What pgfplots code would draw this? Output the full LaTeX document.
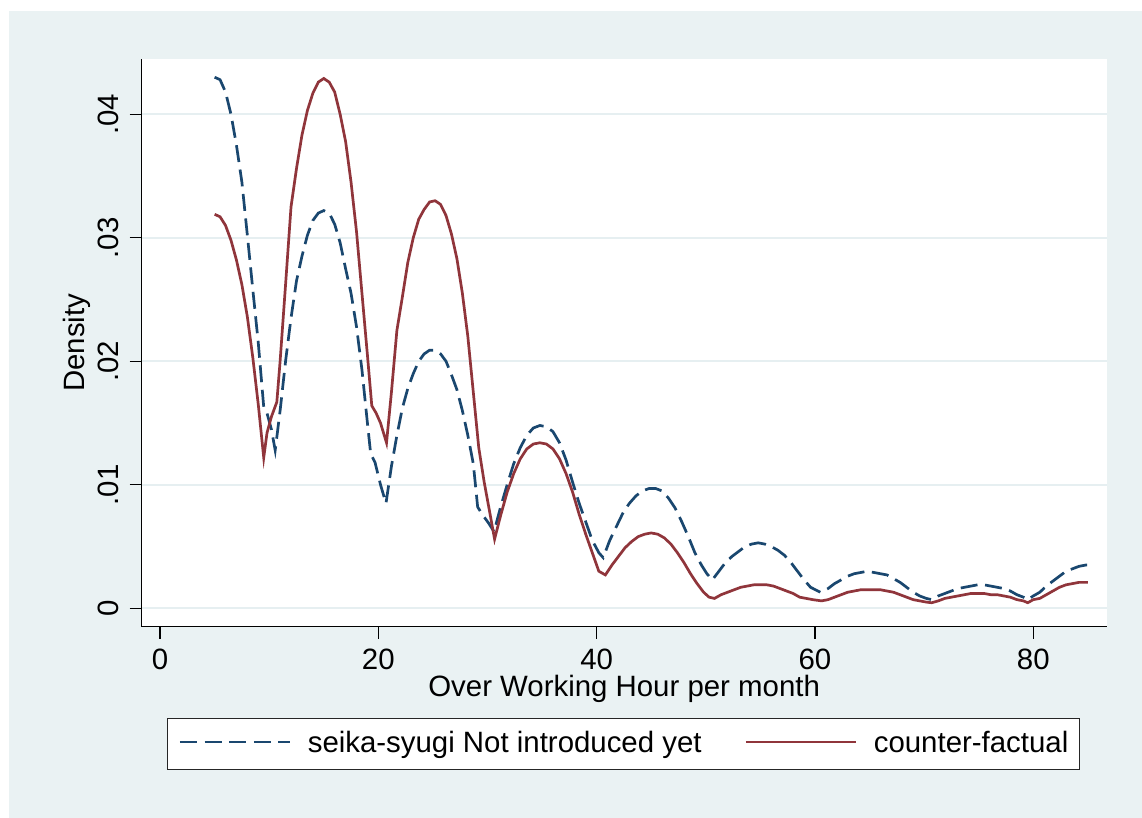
\documentclass[border=0pt]{standalone}
\usepackage{pgfplots}
\pgfplotsset{compat=1.18}
\usepackage{fontspec}
\setmainfont{Liberation Sans}
\definecolor{stnavy}{RGB}{26,71,111}
\definecolor{stmaroon}{RGB}{144,53,59}
\definecolor{stbg}{RGB}{234,242,243}
\definecolor{stgrid}{RGB}{230,239,241}

\pgfplotstableread{
x y
5 0.0430
5.5 0.0428
6 0.0418
6.5 0.0400
7 0.0375
7.5 0.0345
8 0.0302
8.5 0.0258
9 0.0215
9.5 0.0163
9.8 0.0158
10.2 0.0145
10.55 0.0128
11 0.0160
11.5 0.0200
12 0.0235
12.5 0.0265
13 0.0285
13.5 0.0302
14 0.0314
14.5 0.0320
15 0.0322
15.5 0.0320
16 0.0311
16.5 0.0296
17 0.0275
17.5 0.0255
18 0.0228
18.5 0.0193
19 0.0150
19.3 0.0125
19.7 0.0118
20.2 0.0100
20.7 0.0085
21.2 0.0115
21.7 0.0140
22.2 0.0162
22.7 0.0178
23.2 0.0190
23.7 0.0200
24.2 0.0206
24.7 0.0209
25.2 0.0209
25.7 0.0206
26.2 0.0200
26.7 0.0189
27.2 0.0177
27.7 0.0160
28.2 0.0140
28.7 0.0117
29.1 0.0082
29.6 0.0075
30.1 0.0069
30.6 0.0062
31.2 0.0082
31.8 0.0100
32.4 0.0117
33 0.0130
33.6 0.0140
34.2 0.0146
34.8 0.0148
35.4 0.0147
36 0.0143
36.6 0.0134
37.2 0.0120
37.8 0.0102
38.4 0.0085
39 0.0070
39.6 0.0055
40.2 0.0045
40.6 0.0041
41.2 0.0055
41.8 0.0066
42.4 0.0077
43 0.0085
43.6 0.0091
44.2 0.0095
44.8 0.0097
45.4 0.0097
46 0.0095
46.6 0.0089
47.2 0.0081
47.8 0.0070
48.4 0.0058
49 0.0045
49.6 0.0035
50.1 0.0028
50.6 0.0023
51.2 0.0030
51.8 0.0037
52.4 0.0042
53 0.0046
53.6 0.0050
54.2 0.0052
54.8 0.0053
55.4 0.0052
56 0.0050
56.6 0.0047
57.2 0.0043
57.8 0.0037
58.4 0.0030
59 0.0023
59.6 0.0017
60.5 0.0013
61.2 0.0016
61.8 0.0020
62.4 0.0023
63 0.0026
63.6 0.0028
64.2 0.0029
64.8 0.0030
65.4 0.0029
66 0.0028
66.6 0.0027
67.2 0.0024
67.8 0.0021
68.4 0.0017
69 0.0013
69.6 0.0010
70.2 0.0008
70.7 0.0007
71.3 0.0010
71.9 0.0012
72.5 0.0014
73.1 0.0016
73.7 0.0017
74.3 0.0018
74.9 0.0019
75.5 0.0019
76.1 0.0018
76.7 0.0017
77.3 0.0016
77.9 0.0014
78.5 0.0011
79.1 0.0009
79.5 0.0007
80 0.0010
80.6 0.0013
81.2 0.0018
81.8 0.0022
82.4 0.0026
83 0.0030
83.6 0.0032
84.2 0.0034
84.8 0.0035
85 0.0035
}\blueseries

\pgfplotstableread{
x y
5 0.0319
5.5 0.0317
6 0.0310
6.5 0.0298
7 0.0282
7.5 0.0262
8 0.0236
8.5 0.0203
9 0.0165
9.5 0.0122
9.8 0.0142
10.2 0.0155
10.7 0.0167
11 0.0200
11.5 0.0262
12 0.0325
12.5 0.0356
13 0.0383
13.5 0.0403
14 0.0417
14.5 0.0426
15 0.0429
15.5 0.0426
16 0.0418
16.5 0.0400
17 0.0378
17.5 0.0345
18 0.0305
18.5 0.0255
19 0.0205
19.4 0.0164
19.8 0.0158
20.2 0.0150
20.75 0.0134
21.2 0.0175
21.7 0.0225
22.2 0.0252
22.7 0.0280
23.2 0.0300
23.7 0.0315
24.2 0.0323
24.7 0.0329
25.2 0.0330
25.7 0.0327
26.2 0.0318
26.7 0.0303
27.2 0.0283
27.7 0.0255
28.2 0.0220
28.7 0.0175
29.2 0.0130
29.7 0.0102
30.2 0.0078
30.65 0.0056
31.2 0.0075
31.8 0.0094
32.4 0.0109
33 0.0121
33.6 0.0129
34.2 0.0133
34.8 0.0134
35.4 0.0133
36 0.0129
36.6 0.0121
37.2 0.0109
37.8 0.0094
38.4 0.0076
39 0.0060
39.6 0.0045
40.2 0.0030
40.8 0.0027
41.4 0.0035
42 0.0042
42.6 0.0049
43.2 0.0054
43.8 0.0058
44.4 0.0060
45 0.0061
45.6 0.0060
46.2 0.0057
46.8 0.0052
47.4 0.0045
48 0.0037
48.6 0.0028
49.2 0.0020
49.8 0.0013
50.3 0.0009
50.8 0.0008
51.4 0.0011
52 0.0013
52.6 0.0015
53.2 0.0017
53.8 0.0018
54.4 0.0019
55 0.0019
55.6 0.0019
56.2 0.0018
56.8 0.0016
57.4 0.0014
58 0.0012
58.6 0.0009
59.2 0.0008
59.8 0.0007
60.6 0.0006
61.2 0.0007
61.8 0.0009
62.4 0.0011
63 0.0013
63.6 0.0014
64.2 0.0015
64.8 0.0015
65.4 0.0015
66 0.0015
66.6 0.0014
67.2 0.0013
67.8 0.0011
68.4 0.0009
69 0.0007
69.6 0.0006
70.2 0.0005
70.7 0.00045
71.3 0.0006
71.9 0.0008
72.5 0.0009
73.1 0.0010
73.7 0.0011
74.3 0.0012
74.9 0.0012
75.5 0.0012
76.1 0.0011
76.7 0.0011
77.3 0.0010
77.9 0.0009
78.5 0.0007
79.1 0.0006
79.5 0.00045
80 0.0007
80.6 0.0008
81.2 0.0011
81.8 0.0014
82.4 0.0017
83 0.0019
83.6 0.0020
84.2 0.0021
84.8 0.0021
85 0.0021
}\redseries

\begin{document}
\fontsize{14.7pt}{17.6pt}\selectfont
\begin{tikzpicture}
\fill[white] (-70.85pt,-95.65pt) rectangle (500.15pt,313.35pt);
\fill[stbg] (-66.35pt,-95.65pt) rectangle (500.15pt,307.85pt);
\begin{axis}[
  scale only axis, width=482.45pt, height=284pt,
  at={(0pt,0pt)}, anchor=south west,
  xmin=-1.68, xmax=86.72, ymin=-0.00149, ymax=0.0445,
  axis background/.style={fill=white},
  axis x line*=bottom, axis y line*=left,
  axis line style={black, line width=0.6pt},
  every tick/.style={black, line width=0.6pt},
  tick align=outside, major tick length=6pt,
  xtick={0,20,40,60,80},
  ytick={0,0.01,0.02,0.03,0.04},
  yticklabels={0,.01,.02,.03,.04},
  scaled y ticks=false,
  ymajorgrids, grid style={stgrid, line width=1pt},
  /pgf/number format/assume math mode=true,
  xticklabel style={anchor=north, inner sep=0pt},
  xticklabel shift=5pt,
  yticklabel style={rotate=90, anchor=south, inner sep=0pt},
  yticklabel shift=5.5pt,
  xlabel={Over Working Hour per month},
  ylabel={Density},
  xlabel style={at={(axis description cs:0.5,-0.1232)}, anchor=base},
  ylabel style={at={(axis description cs:-0.0588,0.5)}, anchor=base, rotate=0},
  legend columns=2,
  legend cell align=left,
  legend style={at={(axis description cs:0.4993,-0.2065)}, anchor=center,
    draw=black!85, line width=0.5pt, fill=white,
    inner xsep=5.65pt, inner ysep=6.2pt,
    nodes={inner sep=0pt}},
  /tikz/every odd column/.append style={column sep=8.25pt},
  /tikz/every even column/.append style={column sep=21.5pt},
  legend image code/.code={\draw[#1] (0pt,1pt) -- (55pt,1pt);},
]
\addplot[stnavy, line width=1.35pt, dash pattern=on 8.5pt off 3.8pt] table[x=x,y=y] {\blueseries};
\addlegendentry{seika-syugi Not introduced yet}
\addplot[stmaroon, line width=1.35pt] table[x=x,y=y] {\redseries};
\addlegendentry{counter-factual}
\end{axis}
\end{tikzpicture}
\end{document}
